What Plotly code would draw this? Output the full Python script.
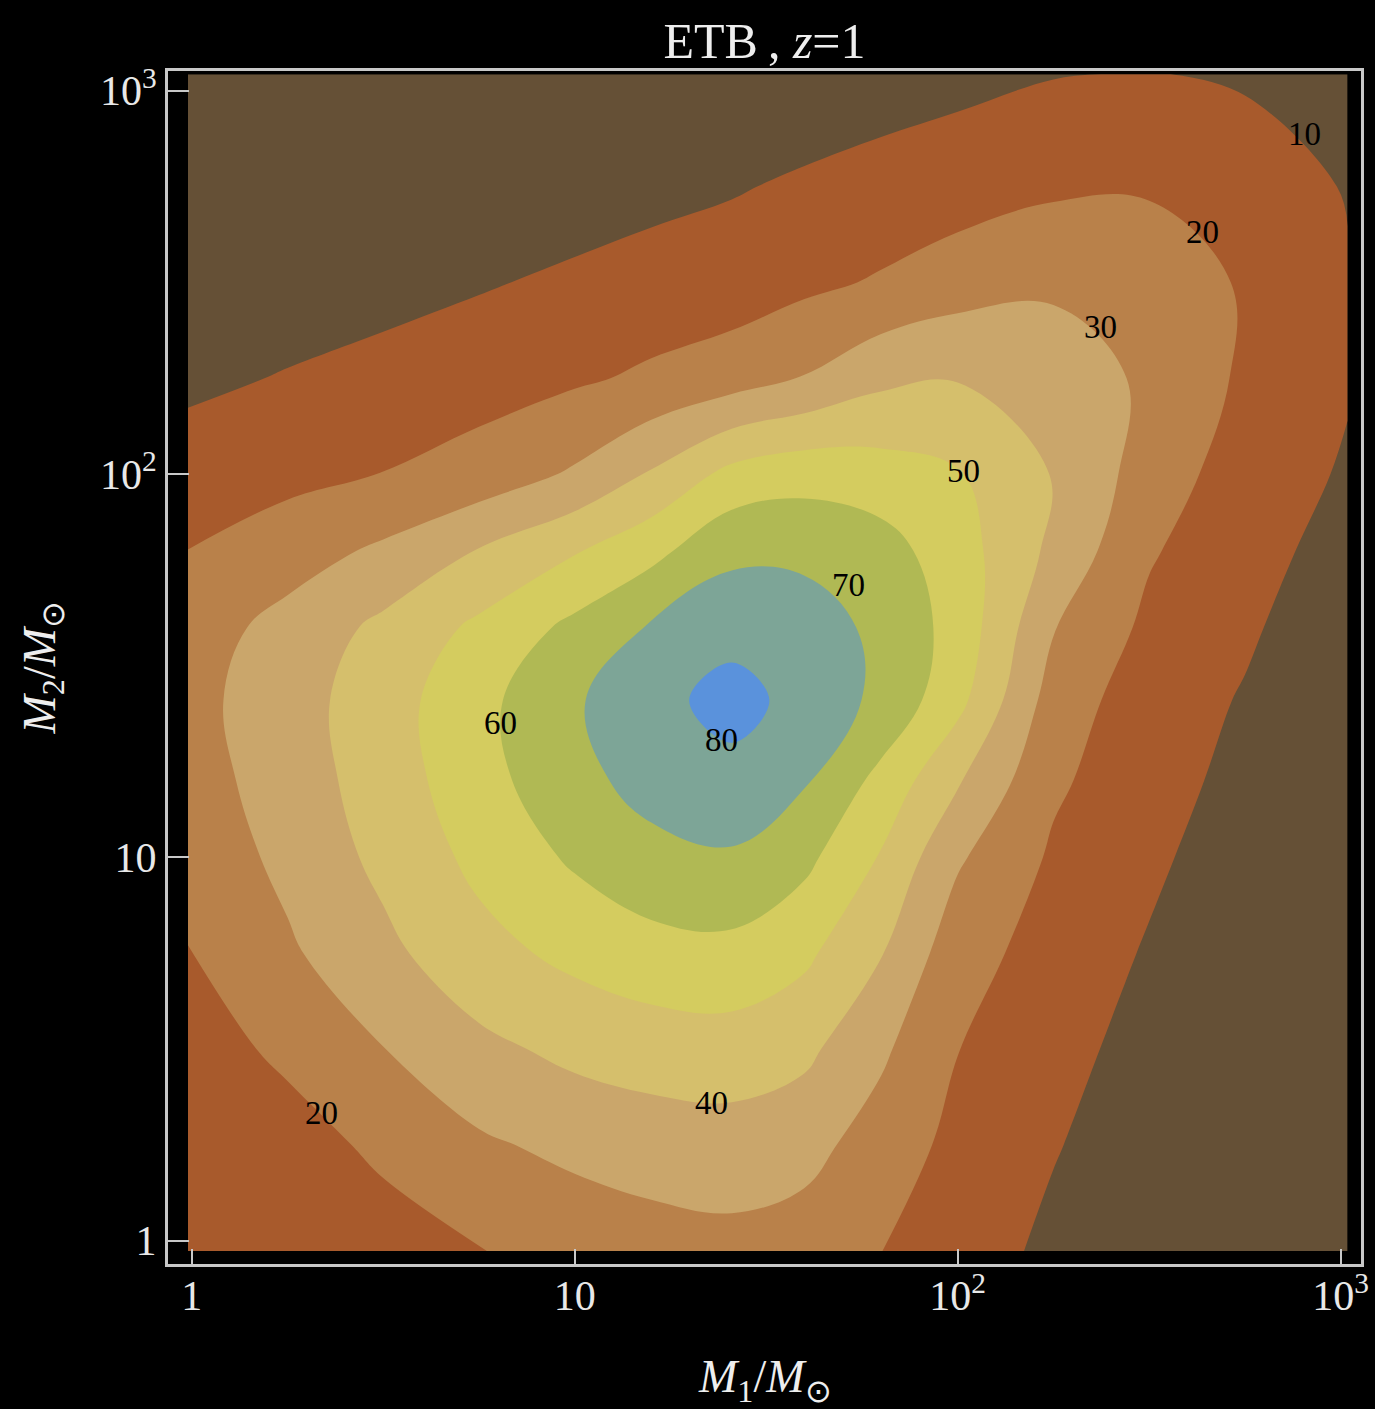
import plotly.graph_objects as go

# ---- data ----
# grid nodes: log10(M1/Msun) and log10(M2/Msun)
log_m1 = [-0.0097, 0.25, 0.5, 0.75, 1.0, 1.2, 1.41, 1.6, 1.8, 2.0, 2.25, 2.5, 2.75, 3.018]
log_m2 = [-0.027, 0.25, 0.5, 0.75, 1.0, 1.2, 1.41, 1.6, 1.8, 2.0, 2.25, 2.5, 2.75, 3.043]

# SNR values, rows follow log_m2, columns follow log_m1
snr = [
    [10.8, 12.8, 15.6, 19.7, 23.3, 25.7, 26.9, 25.3, 20.1, 14.5, 8.0, 6.0, 4.5, 3.5],
    [12.8, 16.0, 22.0, 28.5, 32.5, 34.6, 35.6, 33.2, 25.6, 17.2, 10.6, 5.0, 4.0, 3.3],
    [15.6, 22.0, 29.8, 37.5, 42.5, 44.8, 45.5, 42.3, 31.7, 20.2, 13.3, 6.5, 3.8, 3.2],
    [19.7, 28.5, 37.5, 46.7, 52.5, 56.0, 57.0, 52.0, 40.5, 24.0, 15.9, 9.1, 3.5, 3.2],
    [23.3, 32.5, 42.5, 52.5, 61.5, 67.5, 69.0, 62.5, 49.2, 31.3, 18.6, 11.8, 5.0, 3.4],
    [25.7, 34.6, 44.8, 56.0, 67.5, 73.0, 76.0, 71.0, 57.0, 41.0, 21.6, 13.9, 7.1, 3.6],
    [26.9, 35.6, 45.5, 57.0, 69.0, 76.0, 84.5, 75.8, 68.0, 53.0, 25.5, 14.5, 9.3, 3.8],
    [25.3, 33.2, 42.3, 52.0, 62.5, 71.0, 75.8, 75.2, 67.5, 56.5, 30.5, 17.8, 11.3, 4.2],
    [20.1, 25.6, 31.7, 40.5, 49.2, 57.0, 68.0, 67.5, 64.0, 54.5, 37.7, 21.0, 13.4, 6.5],
    [14.5, 17.2, 20.2, 24.0, 31.3, 41.0, 53.0, 56.5, 54.5, 50.7, 39.5, 25.5, 15.0, 9.0],
    [8.0, 10.6, 13.3, 15.9, 18.6, 21.6, 25.5, 30.5, 37.7, 39.5, 35.5, 28.3, 18.4, 10.8],
    [6.0, 5.0, 6.5, 9.1, 11.8, 13.9, 14.5, 17.8, 21.0, 25.5, 28.3, 25.2, 19.1, 11.0],
    [4.5, 4.0, 3.8, 3.5, 5.0, 7.1, 9.3, 11.3, 13.4, 15.0, 18.4, 19.1, 16.0, 9.3],
    [3.5, 3.3, 3.2, 3.2, 3.4, 3.6, 3.8, 4.2, 5.7, 7.5, 9.6, 10.4, 8.6, 5.0],
]

levels_start, levels_end, levels_step = 10, 80, 10

# contour labels and where they sit (log10 units)
label_text = ["10", "20", "30", "50", "70", "60", "80", "40", "20"]
label_lx = [2.906, 2.640, 2.372, 2.016, 1.714, 0.805, 1.384, 1.358, 0.340]
label_ly = [2.887, 2.632, 2.384, 2.008, 1.710, 1.350, 1.306, 0.359, 0.333]

tick_vals = [0, 1, 2, 3]
tick_text = ["1", "10", "10<sup>2</sup>", "10<sup>3</sup>"]

band_colors = ["#655036", "#a85a2c", "#b9814a", "#caa66b", "#d5bf6c",
               "#d4cc5f", "#b0b954", "#7da597", "#5a92dc"]

# ---- figure ----
n = len(band_colors) - 1
cscale = []
for k, c in enumerate(band_colors):
    cscale.append([max(0.0, (k - 0.5) / n), c])
    cscale.append([min(1.0, (k + 0.5) / n), c])

fig = go.Figure()
fig.add_trace(go.Contour(
    x=log_m1, y=log_m2, z=snr,
    autocontour=False,
    contours=dict(start=levels_start, end=levels_end, size=levels_step,
                  coloring="fill", showlines=False),
    colorscale=cscale, showscale=False,
    line=dict(width=0, smoothing=1.1),
    hoverinfo="skip",
))

serif = "Liberation Serif"
for t, x, y in zip(label_text, label_lx, label_ly):
    fig.add_annotation(x=x, y=y, text=t, showarrow=False,
                       font=dict(family=serif, size=33, color="black"),
                       xanchor="center", yanchor="middle")

# axis titles
fig.add_annotation(xref="paper", yref="paper", x=0.5, y=-0.097,
                   text="<i>M</i><sub>1</sub>/<i>M</i><sub>⊙</sub>",
                   showarrow=False, xanchor="center", yanchor="middle",
                   font=dict(family=serif, size=46, color="#eeeeee"))
fig.add_annotation(xref="paper", yref="paper", x=-0.1056, y=0.5,
                   text="<i>M</i><sub>2</sub>/<i>M</i><sub>⊙</sub>",
                   showarrow=False, textangle=-90, xanchor="center", yanchor="middle",
                   font=dict(family=serif, size=46, color="#eeeeee"))

axis_common = dict(
    showgrid=False, zeroline=False, automargin=False,
    showline=True, mirror=True, linecolor="#c8c8c8", linewidth=3,
    ticks="inside", tickcolor="#c8c8c8", tickwidth=2,
    tickvals=tick_vals, ticktext=tick_text,
    tickfont=dict(family=serif, size=42, color="#e8e8e8"),
)

fig.update_layout(
    width=1375, height=1409,
    margin=dict(l=168, r=14, t=71, b=145, autoexpand=False),
    paper_bgcolor="black", plot_bgcolor="black",
    title=dict(text="ETB\u2009, <i>z</i>=1", x=0.5, xref="paper",
               y=1 - 40 / 1409, yref="container", yanchor="middle",
               font=dict(family=serif, size=50, color="#eeeeee")),
    xaxis=dict(range=[-0.0619, 3.053], ticklen=15, ticklabelstandoff=-7, **axis_common),
    yaxis=dict(range=[-0.0608, 3.0516], ticklen=21, **axis_common),
    showlegend=False,
)

fig.write_html("out.html")
